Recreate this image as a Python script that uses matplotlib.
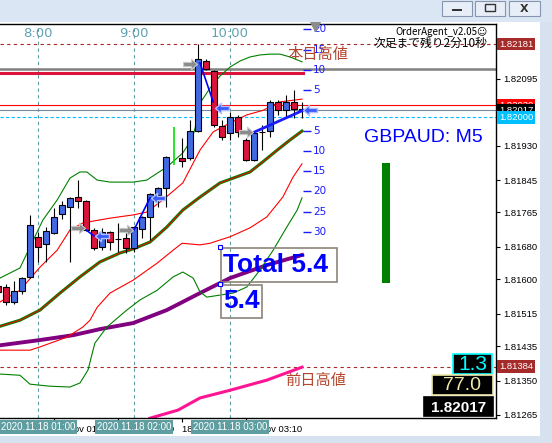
import matplotlib
matplotlib.use("Agg")
import matplotlib.pyplot as plt
import matplotlib.transforms as mtransforms
from matplotlib.patches import Rectangle
from matplotlib.path import Path

W, H = 552, 443

# ---- GBPAUD M5 candles, bar index 0 = 8:00 (one step = 5 min) ----
bar_idx = [-5, -4, -3, -2, -1, 0, 1, 2, 3, 4, 5, 6, 7, 8, 9, 10, 11, 12, 13, 14, 15, 16,
           18, 19, 20, 21, 22, 23, 24, 25, 26, 27, 28, 29, 30, 31, 32, 33]
opens = [1.81583, 1.81581, 1.81544, 1.81571, 1.81606, 1.81705, 1.81687, 1.81714, 1.81761, 1.81779,
         1.81803, 1.81793, 1.81722, 1.81680, 1.81717, 1.81700, 1.81702, 1.81677, 1.81724, 1.81754,
         1.81808, 1.81825, 1.81900, 1.81900, 1.81966, 1.82139, 1.82114, 1.81979, 1.81961, 1.82001,
         1.81944, 1.81895, 1.81964, 1.81966, 1.82038, 1.82018, 1.82038, 1.82021]
highs = [1.81588, 1.81588, 1.81596, 1.81606, 1.81759, 1.81717, 1.81729, 1.81776, 1.81793, 1.81803,
         1.81845, 1.81796, 1.81727, 1.81727, 1.81719, 1.81739, 1.81714, 1.81732, 1.81756, 1.81813,
         1.81828, 1.81904, 1.81949, 1.81993, 1.82181, 1.82144, 1.82117, 1.81993, 1.82013, 1.82006,
         1.81949, 1.81964, 1.81981, 1.82043, 1.82043, 1.82055, 1.82067, 1.82038]
lows = [1.81564, 1.81537, 1.81539, 1.81564, 1.81603, 1.81643, 1.81643, 1.81712, 1.81749, 1.81643,
        1.81776, 1.81719, 1.81672, 1.81672, 1.81672, 1.81668, 1.81665, 1.81668, 1.81702, 1.81697,
        1.81779, 1.81779, 1.81877, 1.81895, 1.81964, 1.82117, 1.81976, 1.81944, 1.81944, 1.81951,
        1.81892, 1.81892, 1.81919, 1.81951, 1.82006, 1.81998, 1.81998, 1.81998]
closes = [1.81569, 1.81544, 1.81571, 1.81603, 1.81734, 1.81680, 1.81719, 1.81754, 1.81784, 1.81801,
          1.81793, 1.81722, 1.81677, 1.81717, 1.81692, 1.81699, 1.81677, 1.81729, 1.81754, 1.81811,
          1.81825, 1.81902, 1.81892, 1.81966, 1.82144, 1.82119, 1.81981, 1.81951, 1.82001, 1.81964,
          1.81895, 1.81961, 1.81963, 1.82038, 1.82018, 1.82038, 1.82021, 1.82017]

# ---- indicator lines (bollinger bands, moving averages) ----
bb2_up_x = [-4.75, -2.25, -1, 0.6, 2.4, 4, 5.25, 6.1, 7.4, 9, 11.9, 13.6, 14.9, 16.1, 18.1, 19.3,
            19.9, 20.25, 21.5, 22.75, 24, 25.25, 26.5, 27.75, 29, 30.25, 31.5, 33]
bb2_up = [1.81603, 1.81628, 1.81680, 1.81746, 1.81796, 1.81850, 1.81865, 1.81865, 1.81845, 1.81840,
          1.81840, 1.81845, 1.81862, 1.81877, 1.81912, 1.81949, 1.81993, 1.82035, 1.82072, 1.82102,
          1.82124, 1.82139, 1.82149, 1.82154, 1.82156, 1.82156, 1.82149, 1.82137]
bb1_up_x = [-4.75, -2.25, 0.25, 2.4, 4, 5.6, 6.1, 9, 11.9, 13.6, 15.6, 18.1, 19.4, 20.25, 21.9, 24,
            26.1, 28.1, 30.25, 33]
bb1_up = [1.81544, 1.81573, 1.81630, 1.81672, 1.81722, 1.81739, 1.81741, 1.81751, 1.81759, 1.81766,
          1.81796, 1.81838, 1.81887, 1.81919, 1.81964, 1.81986, 1.82006, 1.82017, 1.82038, 1.82045]
mid_x = [-4.75, -2.25, 0.25, 2.75, 5.25, 7.75, 10.25, 11.9, 14, 16.1, 18.1, 20.25, 22.75, 26.5, 28.1,
         29.9, 31.5, 33]
mid = [1.81484, 1.81499, 1.81524, 1.81566, 1.81606, 1.81643, 1.81665, 1.81675, 1.81692, 1.81729,
       1.81771, 1.81803, 1.81838, 1.81865, 1.81890, 1.81919, 1.81944, 1.81966]
bb1_dn_x = [-4.75, -1, 0.25, 3.6, 5.6, 6.5, 7.4, 9, 11.9, 14.9, 16.9, 18, 20.25, 21.5, 24, 26.5,
            28.6, 30.6, 31.9, 33]
bb1_dn = [1.81425, 1.81425, 1.81433, 1.81457, 1.81482, 1.81499, 1.81531, 1.81566, 1.81598, 1.81640,
          1.81672, 1.81689, 1.81685, 1.81689, 1.81705, 1.81727, 1.81754, 1.81803, 1.81853, 1.81885]
bb2_dn_x = [-4.75, -2.25, -1, 1.5, 4, 5.25, 6.25, 7.1, 8.6, 11.1, 12.75, 14.9, 16.9, 18.1, 19.4,
            20.25, 21.1, 24.4, 26.1, 27.75, 29.4, 31.1, 32.4, 33]
bb2_dn = [1.81366, 1.81363, 1.81341, 1.81336, 1.81334, 1.81344, 1.81376, 1.81442, 1.81482, 1.81524,
          1.81549, 1.81573, 1.81606, 1.81618, 1.81603, 1.81569, 1.81556, 1.81566, 1.81581, 1.81623,
          1.81672, 1.81729, 1.81771, 1.81801]
ma_long_x = [-4.75, 0.25, 4.4, 7.75, 11.9, 16.1, 20.25, 24, 28.6, 33]
ma_long = [1.81437, 1.81450, 1.81462, 1.81477, 1.81492, 1.81524, 1.81566, 1.81603, 1.81635, 1.81660]
ma_pink_x = [14, 17.5, 20.25, 24, 28.6, 33]
ma_pink = [1.81257, 1.81277, 1.81307, 1.81326, 1.81351, 1.81383]

# zigzag / trend line segments
zz_x = [[6, 7], [12, 14], [20.25, 21.9]]
zz_y = [[1.81722, 1.81707], [1.81722, 1.81801], [1.82134, 1.82038]]
trend_x = [27.1, 33.1]
trend_y = [1.81964, 1.82017]

# signal arrows
buy_idx = [5, 11, 19, 26]
buy_px = [1.81727, 1.81722, 1.82132, 1.81964]
sell_idx = [8, 15, 23, 34]
sell_px = [1.81707, 1.81801, 1.82023, 1.82017]

# price levels
today_high = 1.82181
prev_high = 1.81384
gray_level = 1.82119
crimson_level = 1.82109
red_level = 1.82030
bid = 1.82017
round_level = 1.82000

price_ticks = [1.82095, 1.81930, 1.81845, 1.81765, 1.81680, 1.81600, 1.81515, 1.81435, 1.81350, 1.81265]
hour_idx = [0, 12, 24]
hour_labels = ["8:00", "9:00", "10:00"]
server_labels = ["2020.11.18 01:00", "2020.11.18 02:00", "2020.11.18 03:00"]
tick_idx = [2, 10, 18, 26]
tick_labels = ["18 Nov 01:10", "18 Nov 01:50", "18 Nov 02:30", "18 Nov 03:10"]

pip_labels = [20, 15, 10, 5, 5, 10, 15, 20, 25, 30]
pip_prices = [1.82217, 1.82167, 1.82117, 1.82067, 1.81967, 1.81917, 1.81867, 1.81817, 1.81767, 1.81717]

plt.rcParams["font.family"] = ["DejaVu Sans", "Noto Sans CJK JP"]
CJK = ["Noto Sans CJK JP", "DejaVu Sans"]

fig = plt.figure(figsize=(W / 100, H / 100), dpi=100)
fig.patch.set_facecolor("white")


def fpos(x, y):
    return x / W, 1 - y / H


def frect(x0, y0, x1, y1, **kw):
    fig.patches.append(Rectangle(fpos(x0, y1), (x1 - x0) / W, (y1 - y0) / H,
                                 transform=fig.transFigure, **kw))


# window chrome
frect(0, 0, W, 22, fc="#dbe6f4", ec="none")
frect(540, 22, W, H, fc="#d7e2f0", ec="none")
frect(0, 436, W, H, fc="#d7e2f0", ec="none")
for bx0, bx1 in [(442, 472), (475, 505), (509, 540)]:
    frect(bx0, 1, bx1, 16, fc="#e8eef7", ec="#8796b0", lw=0.8)
frect(452, 9, 462, 11, fc="#333333", ec="none")
frect(485, 4, 495, 11, fc="none", ec="#333333", lw=1)
fig.text(*fpos(524.5, 8.5), "X", ha="center", va="center", fontsize=8, weight="bold", color="#333333")

ax = fig.add_axes([0, (H - 418) / H, 496 / W, (418 - 24) / H])
ax.set_xlim(-4.75, 57.25)
ax.set_ylim(1.812575, 1.822304)
ax.set_facecolor("white")
ax.spines["left"].set_visible(False)
for s in ["top", "right", "bottom"]:
    ax.spines[s].set_linewidth(1)

# grid: hour lines
for i in hour_idx:
    ax.axvline(i, color="#5f9ea0", lw=0.8, ls=(0, (3, 3)), zorder=1)

# horizontal levels
ax.axhline(today_high, color="#a52a2a", lw=0.8, ls=(0, (3, 3)), zorder=1)
ax.axhline(prev_high, color="#a52a2a", lw=0.8, ls=(0, (3, 3)), zorder=1)
ax.axhline(gray_level, color="#808080", lw=1.8, zorder=1)
ax.plot([-4.75, 33.1], [crimson_level, crimson_level], color="#dc143c", lw=2.2, zorder=1)
ax.axhline(red_level, color="#ff0000", lw=0.8, zorder=1)
ax.axhline(bid, color="#778899", lw=0.8, zorder=1)
ax.axhline(round_level, color="#00bfff", lw=0.8, ls=(0, (3, 2)), zorder=1)

# indicators
ax.plot(ma_pink_x, ma_pink, color="#ff1493", lw=2.2, zorder=2)
ax.plot(ma_long_x, ma_long, color="#800080", lw=2.8, zorder=2)
ax.plot(bb2_up_x, bb2_up, color="#008000", lw=0.8, zorder=2)
ax.plot(bb2_dn_x, bb2_dn, color="#008000", lw=0.8, zorder=2)
ax.plot(bb1_up_x, bb1_up, color="#ff0000", lw=0.8, zorder=2)
ax.plot(bb1_dn_x, bb1_dn, color="#ff0000", lw=0.8, zorder=2)
ax.plot(mid_x, mid, color="#008000", lw=2.2, zorder=2)
ax.plot(mid_x, mid, color="#ff0000", lw=0.7, zorder=2)

# candles
for i, o, h, l, c in zip(bar_idx, opens, highs, lows, closes):
    ax.vlines(i, l, h, color="black", lw=0.8, zorder=3)
    col = "#4169e1" if c > o else "#dc143c"
    ax.bar(i, abs(c - o), bottom=min(o, c), width=0.65, color=col, edgecolor="black", lw=0.8, zorder=4)
ax.vlines(17, 1.81882, 1.81976, color="#00e000", lw=1.2, zorder=3)

# zigzag + trend line
for xs, ys in zip(zz_x, zz_y):
    ax.plot(xs, ys, color="#0000ff", lw=1.2, zorder=5)
ax.plot(trend_x, trend_y, color="#1a1aff", lw=2, zorder=5)

# signal arrows
arrow_r = Path([(-1, -0.3), (0.15, -0.3), (0.15, -0.75), (1, 0), (0.15, 0.75), (0.15, 0.3),
                (-1, 0.3), (-1, -0.3)],
               [Path.MOVETO] + [Path.LINETO] * 6 + [Path.CLOSEPOLY])
arrow_l = Path([(-x, y) for x, y in arrow_r.vertices], arrow_r.codes)
ax.plot(buy_idx, buy_px, ls="none", marker=arrow_r, ms=10, mfc="#8c8c8c", mec="#c8c8c8", mew=0.8, zorder=6)
ax.plot(sell_idx, sell_px, ls="none", marker=arrow_l, ms=10, mfc="#3a5cff", mec="#b0c0ff", mew=1, zorder=6)

# pip distance scale
ax.plot([33.6] * len(pip_prices), pip_prices, ls="none", marker="_", ms=6, mew=1, color="#1a1aff", zorder=5)
for v, p in zip(pip_labels, pip_prices):
    ax.text(34.4, p, str(v), color="#1a1aff", fontsize=7.5, va="center", ha="left", zorder=5)
ax.plot([34.6], [1.82225], marker="v", ms=7, color="#8c8c8c", ls="none", zorder=6, clip_on=False)

# text labels on chart
ax.text(31.25, 1.82154, "本日高値", family=CJK, fontsize=11, color="#b4462d", va="center", ha="left", zorder=7)
ax.text(30.9, 1.81351, "前日高値", family=CJK, fontsize=11, color="#b4462d", va="center", ha="left", zorder=7)
ax.text(40.75, 1.81951, "GBPAUD: M5", family="Liberation Sans", fontsize=14, color="#0000ff",
        va="center", ha="left", zorder=7)
ax.vlines(43.5, 1.81591, 1.81887, color="#008000", lw=5.8, zorder=5)

ax.add_patch(Rectangle((22.9, 1.81593), 14.5, 0.00084, fill=False, ec="#8c8478", lw=1.2, zorder=7))
ax.add_patch(Rectangle((22.9, 1.81504), 5.1, 0.00082, fill=False, ec="#8c8478", lw=1.2, zorder=7))
ax.text(23.15, 1.81635, "Total 5.4", family="Liberation Sans", fontsize=19, weight="bold",
        color="#0000ff", va="center", ha="left", zorder=8)
ax.text(23.15, 1.81546, "5.4", family="Liberation Sans", fontsize=19, weight="bold",
        color="#0000ff", va="center", ha="left", zorder=8)
ax.plot([22.75, 22.75], [1.81680, 1.81588], ls="none", marker="s", ms=3, mfc="white", mec="#0000ff",
        mew=0.8, zorder=9)

# hour labels at top of chart
xt = mtransforms.blended_transform_factory(ax.transData, ax.transAxes)
for i, lab in zip(hour_idx, hour_labels):
    ax.text(i, 0.977, lab, transform=xt, color="#5fa3b3", fontsize=9.5, ha="center", va="center", zorder=7)

# axes: price scale on the right, time ticks at the bottom
ax.yaxis.tick_right()
ax.set_yticks(price_ticks)
ax.set_yticklabels([f"{p:.5f}" for p in price_ticks], family="Liberation Sans", fontsize=6.8)
ax.tick_params(axis="y", direction="out", length=3, width=0.8, pad=2)
ax.set_xticks(tick_idx)
ax.set_xticklabels(tick_labels, family="Liberation Sans", fontsize=6.8, ha="left")
ax.tick_params(axis="x", direction="out", length=3, width=0.8, pad=2)

for i, lab in zip(hour_idx, server_labels):
    ax.text(i, -0.023, lab, transform=xt, ha="center", va="center", color="white", fontsize=7,
            family="Liberation Sans", clip_on=False, zorder=10,
            bbox=dict(boxstyle="square,pad=0.18", fc="#5f9ea0", ec="none"))

yt = mtransforms.blended_transform_factory(ax.transAxes, ax.transData)
for p, fc in [(today_high, "#a52a2a"), (red_level, "#ff0000"), (bid, "black"),
              (round_level, "#00bfff"), (prev_high, "#a52a2a")]:
    ax.text(1.006, p, f"{p:.5f}", transform=yt, ha="left", va="center", color="white", fontsize=6.8,
            family="Liberation Sans", clip_on=False, zorder=10,
            bbox=dict(boxstyle="square,pad=0.2", fc=fc, ec="none"))

# agent texts, top right
fig.text(*fpos(487, 32), "OrderAgent_v2.05☺", ha="right", va="center", fontsize=7, family=CJK)
fig.text(*fpos(487, 43), "次足まで残り2分10秒", ha="right", va="center", fontsize=8.5, family=CJK)

# value boxes, bottom right
for (x0, y0, x1, y1), txt, col, size, wt in [
        ((453, 354, 492, 374), "1.3", "#00ffff", 15, "normal"),
        ((432, 375, 493, 395), "77.0", "#eee8aa", 14, "normal"),
        ((424, 397, 493, 416), "1.82017", "white", 11, "bold")]:
    ec = col if txt != "1.82017" else "black"
    frect(x0, y0, x1, y1, fc="black", ec=ec, lw=1.2)
    fig.text(*fpos((x0 + x1) / 2, (y0 + y1) / 2 + 1), txt, ha="center", va="center", color=col,
             fontsize=size, weight=wt, family="Liberation Sans")

fig.savefig("out.png", dpi=100)
